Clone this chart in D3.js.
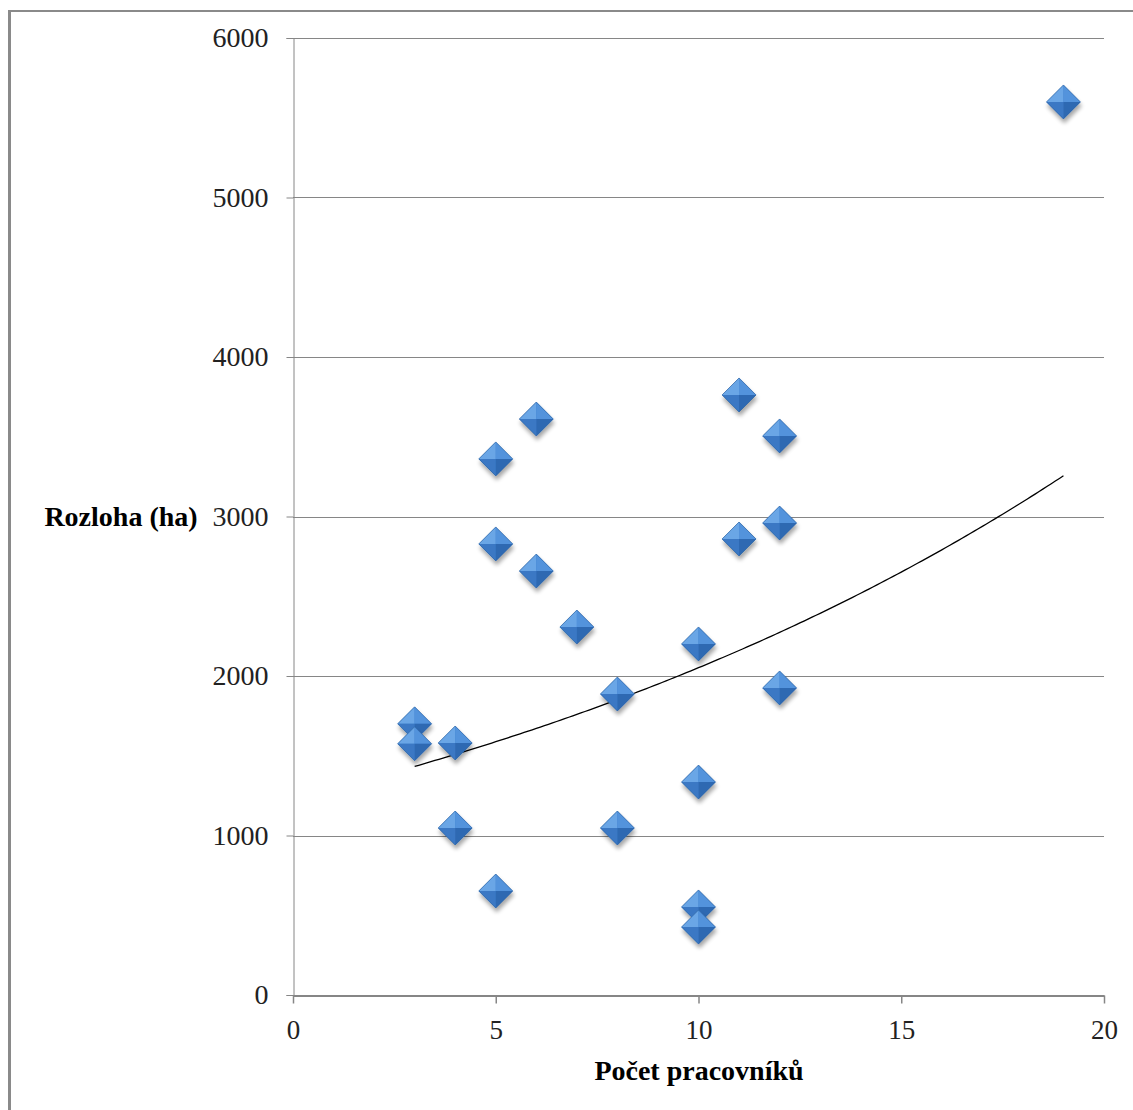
<!DOCTYPE html>
<html>
<head>
<meta charset="utf-8">
<script src="https://cdn.jsdelivr.net/npm/d3@7"></script>
<style>
  html, body { margin: 0; padding: 0; background: #fff; }
  svg { display: block; }
</style>
</head>
<body>
<svg id="chart" width="1133" height="1110"></svg>
<script>
// Počet pracovníků vs. rozloha (ha)
const workers = [3, 3, 4, 4, 5, 5, 5, 6, 6, 7, 8, 8, 10, 10, 10, 10, 11, 11, 12, 12, 12, 19];
const area    = [1700, 1575, 1580, 1047, 652, 2828, 3361, 3611, 2658, 2307, 1887, 1047, 2201, 1335, 552, 426, 3762, 2859, 3505, 2959, 1925, 5599];
const xTicks = [0, 5, 10, 15, 20];
const yTicks = [0, 1000, 2000, 3000, 4000, 5000, 6000];
const xTitle = "Počet pracovníků";
const yTitle = "Rozloha (ha)";

const FONT = "'Liberation Serif', 'Times New Roman', serif";
const svg = d3.select("#chart");
const plot = { left: 293, right: 1104, top: 38, bottom: 995 };

const x = d3.scaleLinear().domain([0, 20]).range([plot.left, plot.right]);
const y = d3.scaleLinear().domain([0, 6000]).range([plot.bottom, plot.top]);

// outer frame (top and left edges)
svg.append("line").attr("x1", 8).attr("x2", 1133).attr("y1", 11).attr("y2", 11)
  .attr("stroke", "#8a8a8a").attr("stroke-width", 2);
svg.append("line").attr("x1", 9.5).attr("x2", 9.5).attr("y1", 10).attr("y2", 1110)
  .attr("stroke", "#8a8a8a").attr("stroke-width", 3);

const defs = svg.append("defs");
const shadow = defs.append("filter").attr("id", "shadow")
  .attr("x", "-50%").attr("y", "-50%").attr("width", "200%").attr("height", "200%");
shadow.append("feGaussianBlur").attr("in", "SourceAlpha").attr("stdDeviation", 2.2);
shadow.append("feOffset").attr("dx", 1).attr("dy", 4).attr("result", "off");
shadow.append("feComponentTransfer").append("feFuncA").attr("type", "linear").attr("slope", 0.35);
const merge = shadow.append("feMerge");
merge.append("feMergeNode");
merge.append("feMergeNode").attr("in", "SourceGraphic");

// horizontal gridlines
svg.append("g")
  .selectAll("line").data(yTicks.filter(d => d > 0)).join("line")
  .attr("x1", plot.left).attr("x2", plot.right)
  .attr("y1", d => Math.round(y(d)) + 0.5).attr("y2", d => Math.round(y(d)) + 0.5)
  .attr("stroke", "#868686").attr("stroke-width", 1);

// y axis
const yAxis = svg.append("g")
  .attr("transform", `translate(${plot.left + 0.5},0)`)
  .call(d3.axisLeft(y).tickValues(yTicks).tickSize(7).tickPadding(18).tickFormat(d3.format("d")));
yAxis.select(".domain").attr("stroke", "#868686");
yAxis.selectAll(".tick line").attr("stroke", "#868686");
yAxis.selectAll(".tick text")
  .attr("font-family", FONT)
  .attr("font-size", 28).attr("fill", "#222");

// x axis
const xAxis = svg.append("g")
  .attr("transform", `translate(0,${plot.bottom + 0.5})`)
  .call(d3.axisBottom(x).tickValues(xTicks).tickSize(8).tickPadding(16).tickSizeOuter(0));
xAxis.select(".domain").attr("stroke", "#868686").attr("stroke-width", 2);
xAxis.selectAll(".tick line").attr("stroke", "#868686").attr("stroke-width", 1.5);
xAxis.selectAll(".tick text")
  .attr("font-family", FONT)
  .attr("font-size", 27).attr("fill", "#222");

// exponential trend line fitted to ln(area)
const n = workers.length;
const ly = area.map(v => Math.log(v));
const mx = d3.mean(workers), my = d3.mean(ly);
let sxy = 0, sxx = 0;
for (let i = 0; i < n; i++) {
  sxy += (workers[i] - mx) * (ly[i] - my);
  sxx += (workers[i] - mx) * (workers[i] - mx);
}
const b = sxy / sxx;
const a = Math.exp(my - b * mx);
const [xmin, xmax] = d3.extent(workers);
const trend = d3.range(xmin, xmax + 0.001, 0.1).map(t => [t, a * Math.exp(b * t)]);
svg.append("path")
  .datum(trend)
  .attr("fill", "none").attr("stroke", "#000").attr("stroke-width", 1.3)
  .attr("d", d3.line().x(d => x(d[0])).y(d => y(d[1])));

// diamond markers with bevelled faces
const s = 17;
const faces = [
  { pts: [[0, -s], [-s, 0], [0, 0]], fill: "#6aa6e6" },
  { pts: [[0, -s], [s, 0], [0, 0]], fill: "#5393dc" },
  { pts: [[-s, 0], [0, s], [0, 0]], fill: "#3a78c4" },
  { pts: [[s, 0], [0, s], [0, 0]], fill: "#2f69b2" }
];
const markers = svg.append("g").selectAll("g")
  .data(workers.map((w, i) => ({ w, a: area[i] }))).join("g")
  .attr("transform", d => `translate(${x(d.w)},${y(d.a)})`)
  .attr("filter", "url(#shadow)");
markers.append("path")
  .attr("d", `M0,${-s}L${s},0L0,${s}L${-s},0Z`)
  .attr("fill", "#3f7fcc");
faces.forEach(f => {
  markers.append("path")
    .attr("d", "M" + f.pts.map(p => p.join(",")).join("L") + "Z")
    .attr("fill", f.fill);
});
markers.append("path")
  .attr("d", `M0,${-s}L${s},0L0,${s}L${-s},0Z`)
  .attr("fill", "none").attr("stroke", "#2a5f9e").attr("stroke-width", 0.6);

// axis titles
svg.append("text")
  .attr("x", 699).attr("y", 1080)
  .attr("text-anchor", "middle")
  .attr("font-family", FONT)
  .attr("font-weight", "bold").attr("font-size", 28)
  .text(xTitle);
svg.append("text")
  .attr("x", 121).attr("y", 526)
  .attr("text-anchor", "middle")
  .attr("font-family", FONT)
  .attr("font-weight", "bold").attr("font-size", 28)
  .text(yTitle);
</script>
</body>
</html>
